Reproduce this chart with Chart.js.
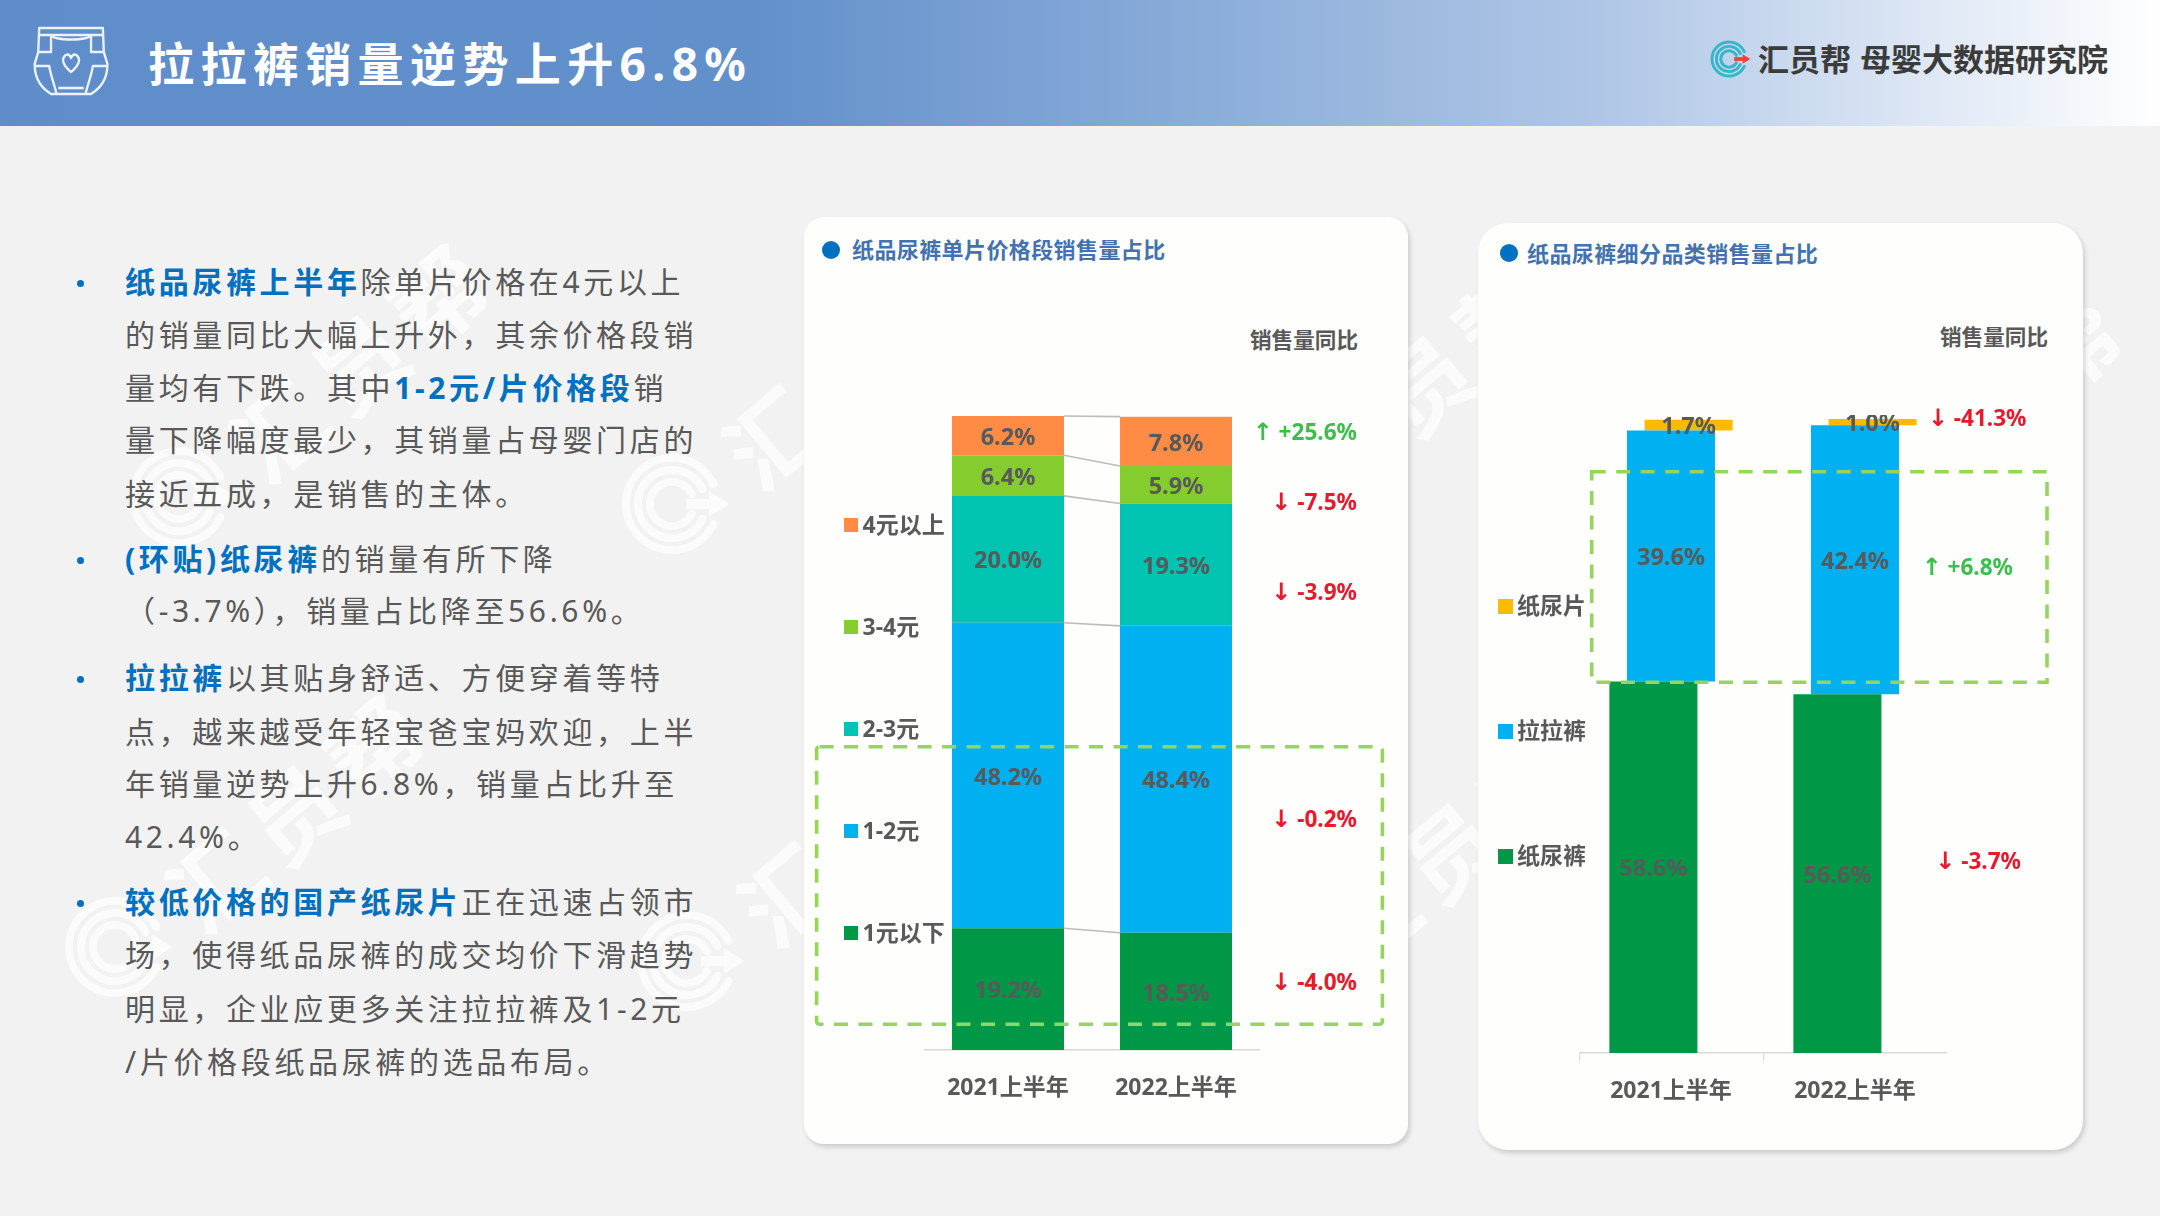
<!DOCTYPE html>
<html lang="zh-CN">
<head>
<meta charset="utf-8">
<title>拉拉裤销量逆势上升6.8%</title>
<script src="https://cdn.jsdelivr.net/npm/chart.js@4"></script>
<style>
html,body{margin:0;padding:0;background:#F2F2F2;}
body{width:2160px;height:1216px;position:relative;overflow:hidden;font-family:"Noto Sans","Noto Sans CJK SC",sans-serif;}
.abs{position:absolute;white-space:nowrap;}
#header{left:0;top:0;width:2160px;height:126px;background:linear-gradient(90deg,#5F8DCA 0,#6290CB 35%,#AFC6E6 74%,#FFFFFF 100%);}
#title{left:148px;top:33px;font-size:46px;line-height:60px;font-weight:700;color:#fff;letter-spacing:6.4px;}
.brand{top:39px;font-size:31px;line-height:40px;font-weight:700;color:#3C3C3C;}
.card{position:absolute;background:#FEFEFD;box-shadow:2px 3px 5px rgba(0,0,0,.16);}
.line{position:absolute;left:125px;height:40px;line-height:40px;font-size:30px;letter-spacing:3.65px;color:#595959;white-space:nowrap;}
.line b{color:#0070C0;font-weight:700;}
.bullet{position:absolute;left:77px;width:7px;height:7px;border-radius:50%;background:#0070C0;}
.cardTitle{font-size:22px;line-height:30px;letter-spacing:.4px;font-weight:700;color:#4472B0;}
.dot{position:absolute;width:18px;height:18px;border-radius:50%;background:#0070C0;}
.yoyHead{font-size:21.6px;line-height:30px;font-weight:700;color:#595959;}
.yoy{font-size:22.6px;line-height:30px;font-weight:700;text-align:right;}
.yoy .arrow{font-family:"DejaVu Sans";font-weight:700;font-size:24px;margin-right:6px;line-height:20px;}
.legendBox{position:absolute;width:14.5px;height:14.5px;}
.legendText{font-size:23px;line-height:30px;font-weight:700;color:#595959;}
canvas{position:absolute;display:block;}
.wm{position:absolute;color:#fff;opacity:.75;font-family:"Noto Sans CJK SC";font-weight:700;font-size:92px;letter-spacing:12px;line-height:100px;white-space:nowrap;transform-origin:0 50%;transform:rotate(-40deg);}
svg{position:absolute;overflow:visible;}
</style>
</head>
<body>
<script>
// ---- chart values ----
const categories = ['2021上半年', '2022上半年'];

const priceBandNames = ['1元以下', '1-2元', '2-3元', '3-4元', '4元以上'];
const shareBelow1 = [19.2, 18.5];
const share1to2 = [48.2, 48.4];
const share2to3 = [20.0, 19.3];
const share3to4 = [6.4, 5.9];
const share4up = [6.2, 7.8];
const priceBandYoY = ['+25.6%', '-7.5%', '-3.9%', '-0.2%', '-4.0%'];

const typeNames = ['纸尿裤', '拉拉裤', '纸尿片'];
const shareDiaper = [58.6, 56.6];
const sharePullUp = [39.6, 42.4];
const shareLiner = [1.7, 1.0];
const typeYoY = ['-41.3%', '+6.8%', '-3.7%'];

const pageTitle = '拉拉裤销量逆势上升6.8%';
const brandShort = '汇员帮';
const brandLong = '母婴大数据研究院';
const priceChartTitle = '纸品尿裤单片价格段销售量占比';
const typeChartTitle = '纸品尿裤细分品类销售量占比';
const yoyHeader = '销售量同比';

const bodyLines = [
  ['<b>纸品尿裤上半年</b>除单片价格在4元以上', true],
  ['的销量同比大幅上升外，其余价格段销'],
  ['量均有下跌。其中<b>1-2元/片价格段</b>销'],
  ['量下降幅度最少，其销量占母婴门店的'],
  ['接近五成，是销售的主体。'],
  ['<b>(环贴)纸尿裤</b>的销量有所下降', true],
  ['（-3.7%），销量占比降至56.6%。'],
  ['<b>拉拉裤</b>以其贴身舒适、方便穿着等特', true],
  ['点，越来越受年轻宝爸宝妈欢迎，上半'],
  ['年销量逆势上升6.8%，销量占比升至'],
  ['42.4%。'],
  ['<b>较低价格的国产纸尿片</b>正在迅速占领市', true],
  ['场，使得纸品尿裤的成交均价下滑趋势'],
  ['明显，企业应更多关注拉拉裤及1-2元'],
  ['/片价格段纸品尿裤的选品布局。']
];

// ---- styling and placement (kept apart from the values) ----
const priceColors = ['#009846', '#00B0F0', '#00C3B1', '#85CC2E', '#FF8B45'];
const typeColors = ['#009846', '#00B0F0', '#FFB900'];
const inkColor = '#595959';
const lineCentres = [281.5, 335.2, 387.5, 440.2, 493.5, 558.5, 611.2, 677.8, 731.5, 783.5, 836.5, 901.5, 955.2, 1008.5, 1061.5];
const priceYoYPlace = [[431.5, 1357], [501.5, 1357], [591.5, 1357], [818.5, 1357], [981.5, 1357]];
const typeYoYPlace = [[417.5, 2026.5], [566.5, 2013], [860.5, 2021]];
const priceLegendPlace = [933, 831, 729, 627, 525];
const typeLegendPlace = [856.7, 731.7, 606.7];
const watermarkLogos = [[179, 497], [672, 504], [1245, 518], [1812, 545], [115, 947], [687, 961], [1270, 985]];

function el(tag, cls, css, html) {
  const e = document.createElement(tag);
  if (cls) e.className = cls;
  if (css) e.style.cssText = css;
  if (html !== undefined) e.innerHTML = html;
  document.body.appendChild(e);
  return e;
}
const NS = 'http://www.w3.org/2000/svg';
function logoSvg(cx, cy, r, stroke, opacity, dart) {
  const rings = [1, .74, .48].map(k => {
    const R = r * k;
    const a0 = -0.45, a1 = 0.45;
    const x0 = cx + R * Math.cos(a0), y0 = cy + R * Math.sin(a0);
    const x1 = cx + R * Math.cos(a1), y1 = cy + R * Math.sin(a1);
    return `<path d="M${x0} ${y0} A${R} ${R} 0 1 0 ${x1} ${y1}" fill="none" stroke="${stroke}" stroke-width="${r * .17}" stroke-linecap="round"/>`;
  }).join('');
  const d = dart ? `<path d="M${cx + r * .3} ${cy} H${cx + r * 1.1}" stroke="${dart}" stroke-width="${r * .22}"/><path d="M${cx + r * .8} ${cy - r * .28} L${cx + r * 1.25} ${cy} L${cx + r * .8} ${cy + r * .28}Z" fill="${dart}"/>` : '';
  const s = document.createElementNS(NS, 'svg');
  s.setAttribute('width', '2160'); s.setAttribute('height', '1216');
  s.style.cssText = `left:0;top:0;opacity:${opacity};pointer-events:none;`;
  s.innerHTML = rings + d;
  document.body.appendChild(s);
}

// watermark, on the page background
watermarkLogos.forEach(([x, y]) => {
  logoSvg(x, y, 46, '#FFFFFF', .75, '#FFFFFF');
  el('div', 'wm', `left:${x + 62}px;top:${y - 50 - 40}px;`, brandShort);
});

// header
el('div', 'abs', 'left:0;top:0;width:2160px;height:126px;', '').id = 'header';
el('div', 'abs', '', pageTitle).id = 'title';
const icon = document.createElementNS(NS, 'svg');
icon.setAttribute('width', '90'); icon.setAttribute('height', '80');
icon.style.cssText = 'left:31px;top:22px;';
icon.innerHTML = `<g transform="scale(.91,1)" fill="none" stroke="#EAF1FA" stroke-width="2.6" stroke-linejoin="round">
<path d="M9 6 H79 L80 30 L84 42 C84 58 76 66 66 72 H22 C12 66 4 58 4 42 L8 30 Z"/>
<path d="M8 13 H80"/><path d="M8 30 H22 V13 M80 30 H66 V13"/><path d="M22 13 C26 19 62 19 66 13"/>
<path d="M5 44 H20 C22 55 26 63 28 72 M83 44 H68 C66 55 62 63 60 72"/>
<path d="M44 50 C36 44 33 38 37 34 C40 31 43 33 44 36 C45 33 48 31 51 34 C55 38 52 44 44 50 Z"/>
<path d="M30 66 H58"/></g>`;
document.body.appendChild(icon);
logoSvg(1729, 59, 17, '#36B7C9', 1, '#F04040');
el('div', 'abs brand', 'left:1758px;', brandShort);
el('div', 'abs brand', 'left:1860px;', brandLong);

// left text
bodyLines.forEach((l, i) => {
  const cy = lineCentres[i];
  el('div', 'line', `top:${cy - 20}px;`, l[0]);
  if (l[1]) el('div', 'bullet', `top:${cy - 2}px;`);
});

// cards
el('div', 'card', 'left:804px;top:217px;width:604px;height:927px;border-radius:20px;');
el('div', 'card', 'left:1478px;top:223px;width:605px;height:927px;border-radius:30px;');

el('div', 'dot', 'left:822px;top:241px;');
el('div', 'abs cardTitle', 'left:852px;top:234px;', priceChartTitle);
el('div', 'dot', 'left:1500px;top:244px;');
el('div', 'abs cardTitle', 'left:1527px;top:238px;', typeChartTitle);
el('div', 'abs yoyHead', 'left:1250px;top:325px;', yoyHeader);
el('div', 'abs yoyHead', 'left:1940px;top:322px;', yoyHeader);

// charts
const c1 = el('canvas', '', 'left:924px;top:412px;');
c1.width = 336; c1.height = 698;
const c2 = el('canvas', '', 'left:1579px;top:415px;');
c2.width = 368; c2.height = 698;

const barLabels = {
  id: 'barLabels',
  afterDatasetsDraw(chart) {
    const ctx = chart.ctx;
    ctx.save();
    ctx.font = '700 23.5px "Noto Sans","Noto Sans CJK SC"';
    ctx.fillStyle = inkColor;
    ctx.textAlign = 'center';
    ctx.textBaseline = 'middle';
    chart.data.datasets.forEach((ds, d) => {
      chart.getDatasetMeta(d).data.forEach((bar, i) => {
        const p = bar.getCenterPoint();
        ctx.fillText(ds.shares[i].toFixed(1) + '%', p.x, p.y + 2.5);
      });
    });
    ctx.restore();
  }
};
const connectors = {
  id: 'connectors',
  afterDatasetsDraw(chart) {
    const ctx = chart.ctx;
    ctx.save();
    ctx.strokeStyle = '#BDBDBD';
    ctx.lineWidth = 1.6;
    chart.data.datasets.forEach((ds, d) => {
      const [a, b] = chart.getDatasetMeta(d).data;
      ctx.beginPath();
      ctx.moveTo(a.x + a.width / 2, a.y);
      ctx.lineTo(b.x - b.width / 2, b.y);
      ctx.stroke();
    });
    ctx.restore();
  }
};
function xScale(stacked, tickLength, padding) {
  return {
    stacked, offset: true,
    grid: { drawOnChartArea: false, drawTicks: tickLength > 0, tickLength, color: '#D9D9D9' },
    border: { color: '#D9D9D9', width: 1.5 },
    ticks: { color: inkColor, padding, maxRotation: 0, autoSkip: false, font: { family: '"Noto Sans","Noto Sans CJK SC"', size: 23, weight: '700' } },
    afterFit(s) { s.height = 60; s.paddingLeft = 0; s.paddingRight = 0; }
  };
}
function common(x, stacked) {
  return {
    responsive: false, animation: false, devicePixelRatio: 1,
    layout: { padding: { top: 4, left: 0, right: 0, bottom: 0 } },
    plugins: { legend: { display: false }, tooltip: { enabled: false } },
    scales: { x, y: { display: false, min: 0, max: 100, stacked } }
  };
}
const priceSeries = [shareBelow1, share1to2, share2to3, share3to4, share4up];
const chart1 = new Chart(c1, {
  type: 'bar',
  data: {
    labels: categories,
    datasets: priceSeries.map((s, i) => ({
      label: priceBandNames[i], data: s, shares: s,
      backgroundColor: priceColors[i], borderWidth: 0,
      categoryPercentage: 1, barPercentage: 2 / 3
    }))
  },
  options: common(xScale(true, 0, 25), true),
  plugins: [connectors, barLabels]
});

const typeSeries = [shareDiaper, sharePullUp, shareLiner];
const chart2 = new Chart(c2, {
  type: 'bar',
  data: {
    labels: categories,
    datasets: typeSeries.map((s, d) => ({
      label: typeNames[d],
      // each block floats on the running total of the blocks below it
      data: s.map((v, i) => {
        const base = typeSeries.slice(0, d).reduce((t, o) => t + o[i], 0);
        return [base, base + v];
      }),
      shares: s,
      backgroundColor: typeColors[d], borderWidth: 0,
      categoryPercentage: 0.287, barPercentage: 5
    }))
  },
  options: common(xScale(false, 8, 17), false),
  plugins: [barLabels]
});

// legends, built from the charts' own datasets
function htmlLegend(chart, boxX, textX, places) {
  chart.data.datasets.forEach((ds, i) => {
    const y = places[i];
    el('div', 'legendBox', `left:${boxX}px;top:${y - 7.25}px;background:${ds.backgroundColor};`);
    el('div', 'abs legendText', `left:${textX}px;top:${y - 16.5}px;`, ds.label);
  });
}
htmlLegend(chart1, 843.5, 862.5, priceLegendPlace);
htmlLegend(chart2, 1498, 1517, typeLegendPlace);

// year-on-year notes
function yoyNotes(values, places) {
  values.forEach((v, i) => {
    const [cy, right] = places[i];
    const up = v[0] === '+';
    el('div', 'abs yoy', `right:${2160 - right}px;top:${cy - 15}px;color:${up ? '#3CBF4A' : '#E8192C'};`,
      `<span class="arrow">${up ? '↑' : '↓'}</span>${v}`);
  });
}
yoyNotes(priceBandYoY, priceYoYPlace);
yoyNotes(typeYoY, typeYoYPlace);

// dashed highlight frames
const frames = document.createElementNS(NS, 'svg');
frames.setAttribute('width', '2160'); frames.setAttribute('height', '1216');
frames.style.cssText = 'left:0;top:0;pointer-events:none;';
frames.innerHTML = `<g fill="none" stroke="#96D55C" stroke-width="3.6" stroke-dasharray="14 10.5">
<rect x="816.6" y="746.7" width="565.8" height="277.6" rx="3"/>
<rect x="1591.7" y="471.7" width="455.3" height="210.6"/></g>`;
document.body.appendChild(frames);
</script>
</body>
</html>
